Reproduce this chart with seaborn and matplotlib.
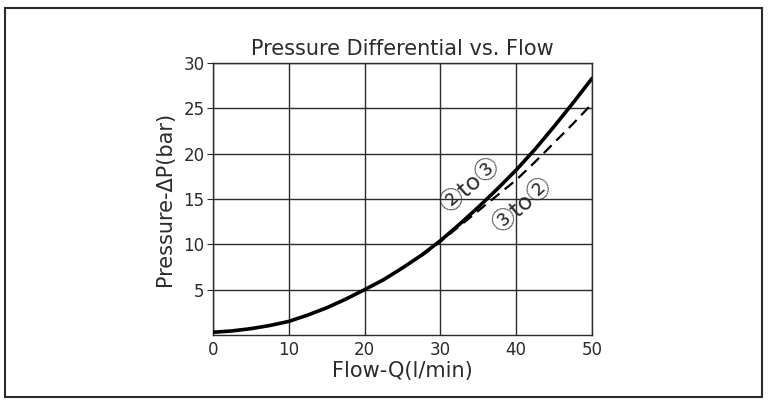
import matplotlib
matplotlib.use("Agg")
import matplotlib.pyplot as plt
import pandas as pd
import seaborn as sns
from matplotlib.patches import Rectangle

# flow (l/min) vs pressure drop (bar)
flow = [0, 2.5, 5, 7.5, 10, 12.5, 15, 17.5, 20, 22.5, 25, 27.5, 30, 32.5, 35,
        37.5, 40, 42.5, 45, 47.5, 50]
dp_2_to_3 = [0.3, 0.45, 0.7, 1.05, 1.5, 2.2, 3.0, 3.95, 5.0, 6.1, 7.4, 8.8, 10.4,
             12.2, 14.1, 16.1, 18.2, 20.5, 23.0, 25.6, 28.3]
flow_dash = [27.5, 30, 32.5, 35, 37.5, 40, 42.5, 45, 47.5, 50]
dp_3_to_2 = [8.7, 10.3, 12.0, 13.7, 15.4, 17.1, 19.1, 21.2, 23.3, 25.5]

x_ticks = [0, 10, 20, 30, 40, 50]
y_ticks = [5, 10, 15, 20, 25, 30]

ink = "#2b2b2b"

sns.set_style("white")
plt.rcParams['font.family'] = ['DejaVu Sans', 'Noto Sans CJK SC']

fig = plt.figure(figsize=(7.68, 4.03), dpi=100)
ax = fig.add_axes([213 / 768, 1 - 335 / 403, (592 - 213) / 768, (335 - 63) / 403])

df1 = pd.DataFrame({"flow": flow, "dp": dp_2_to_3})
df2 = pd.DataFrame({"flow": flow_dash, "dp": dp_3_to_2})
sns.lineplot(data=df1, x="flow", y="dp", ax=ax, color="black", linewidth=2.6, zorder=3)
sns.lineplot(data=df2, x="flow", y="dp", ax=ax, color="black", linewidth=1.6,
             linestyle=(0, (5, 3)), zorder=3)

ax.set_xlim(0, 50)
ax.set_ylim(0, 30)
ax.set_xticks(x_ticks)
ax.set_yticks(y_ticks)
ax.grid(True, color=ink, linewidth=1.0)
for s in ax.spines.values():
    s.set_color(ink)
    s.set_linewidth(1.0)
ax.tick_params(axis="y", length=4, color=ink, labelsize=12, labelcolor=ink, pad=2, left=True)
ax.tick_params(axis="x", length=0, labelsize=12, labelcolor=ink, pad=4)

ax.set_xlabel("Flow-Q(l/min)", fontsize=15, color=ink, labelpad=2)
ax.set_ylabel("Pressure-\u0394P(bar)", fontsize=15, color=ink, labelpad=6)
ax.set_title("Pressure Differential vs. Flow", fontsize=15, color=ink, pad=6)

ax.text(34.0, 16.5, "\u2461to\u2462", rotation=41, ha="center", va="center",
        fontsize=17, color=ink, family=['Noto Sans CJK SC', 'DejaVu Sans'])
ax.text(40.8, 14.3, "\u2462to\u2461", rotation=41, ha="center", va="center",
        fontsize=17, color=ink, family=['Noto Sans CJK SC', 'DejaVu Sans'])

fig.add_artist(Rectangle((5 / 768, 6 / 403), 757 / 768, 389 / 403, transform=fig.transFigure,
                         fill=False, edgecolor=ink, linewidth=1.5))

fig.savefig("out.png", dpi=100)
